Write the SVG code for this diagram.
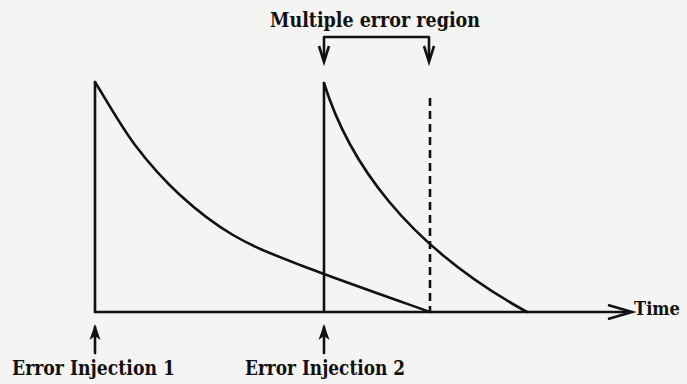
<svg xmlns="http://www.w3.org/2000/svg" width="687" height="384" viewBox="0 0 687 384">
<defs>
<style>
.ln{fill:none;stroke:#111;stroke-width:2.6;stroke-linecap:round;stroke-linejoin:round}
.dash{fill:none;stroke:#111;stroke-width:2.6;stroke-dasharray:8 5}
.lbl{font-family:"DejaVu Serif","Liberation Serif",serif;font-weight:bold;font-size:20px;fill:#111}
</style>
</defs>
<rect width="687" height="384" fill="#f4f4f2"/>
<g id="connectors">
<line class="ln" x1="95" y1="312" x2="626" y2="312"/>
<path d="M608,305 L632,312 L608,319" fill="none" stroke="#111" stroke-width="2.6" stroke-linejoin="miter"/>
<line class="ln" x1="95" y1="312" x2="95" y2="82"/>
<line class="ln" x1="324" y1="312" x2="324" y2="83"/>
<line class="dash" x1="430" y1="98" x2="430" y2="312"/>
<path class="ln" d="M95,82 C101.7,92.5 120.8,126.2 135,145 C149.2,163.8 163.7,180 180,195 C196.3,210 213,223.3 233,235 C253,246.7 267.2,252.2 300,265 C332.8,277.8 408.3,304.2 430,312"/>
<path class="ln" d="M324,83 C348,160 405,245 527,312"/>
<line class="ln" x1="95" y1="353" x2="95" y2="327"/>
<path d="M95,324 L100.5,340 L95,336 L89.5,340 Z" fill="#111"/>
<line class="ln" x1="324" y1="353" x2="324" y2="327"/>
<path d="M324,324 L329.5,340 L324,336 L318.5,340 Z" fill="#111"/>
<path class="ln" d="M324,60 L324,37 L429,37 L429,60"/>
<path d="M319,46 L324,62 L329,46" fill="none" stroke="#111" stroke-width="2.6"/>
<path d="M424,46 L429,62 L434,46" fill="none" stroke="#111" stroke-width="2.6"/>
</g>
<g id="label-region"><text class="lbl" x="270" y="27" textLength="210" lengthAdjust="spacingAndGlyphs">Multiple error region</text></g>
<g id="label-inj1"><text class="lbl" x="12" y="375" textLength="163" lengthAdjust="spacingAndGlyphs">Error Injection 1</text></g>
<g id="label-inj2"><text class="lbl" x="245" y="375" textLength="160" lengthAdjust="spacingAndGlyphs">Error Injection 2</text></g>
<g id="label-time"><text class="lbl" x="634" y="315" font-size="18" style="font-size:18px" textLength="46" lengthAdjust="spacingAndGlyphs">Time</text></g>
</svg>
